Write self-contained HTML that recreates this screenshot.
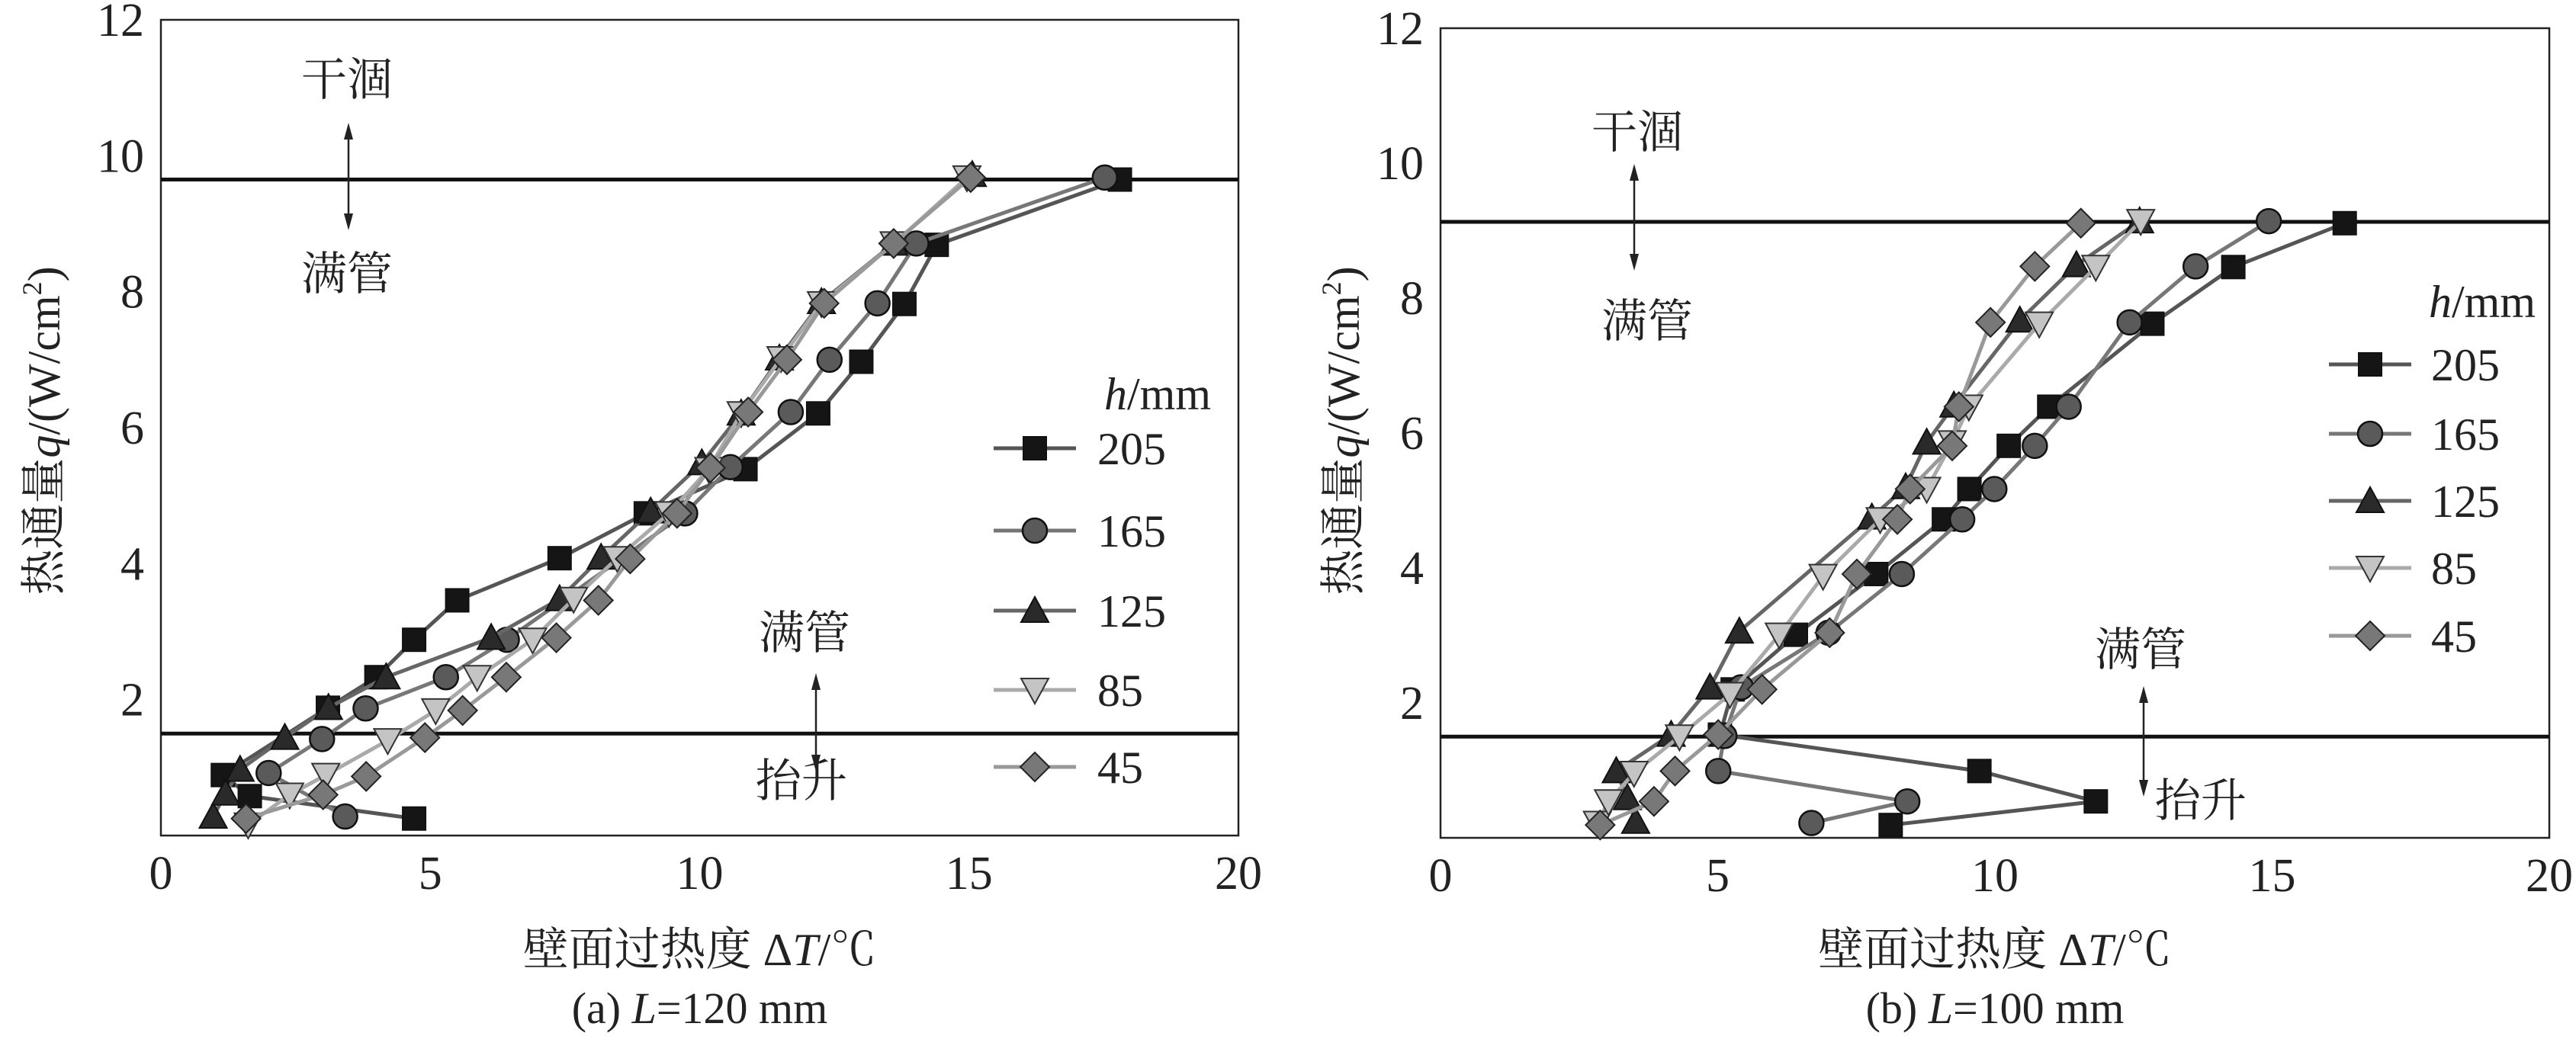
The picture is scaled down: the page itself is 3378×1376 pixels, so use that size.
<!DOCTYPE html>
<html><head><meta charset="utf-8">
<style>
html,body{margin:0;padding:0;background:#fff;}
svg{display:block;font-family:"Liberation Serif","Noto Serif CJK SC",serif;}
</style></head>
<body>
<svg id="chart" width="3378" height="1376" viewBox="0 0 3378 1376" xmlns="http://www.w3.org/2000/svg"></svg>
<script>
// ---------- data ----------
const seriesNames = ["205","165","125","85","45"];
const xTicks = [0,5,10,15,20];
const yTicks = [2,4,6,8,10,12];
// Panel (a) L=120 mm : [ΔT, q]
const a205 = [[4.7,0.25],[1.65,0.58],[1.15,0.89],[3.1,1.88],[4.0,2.33],[4.7,2.88],[5.5,3.46],[7.4,4.08],[9.0,4.74],[10.85,5.39],[12.2,6.21],[13.0,6.97],[13.8,7.82],[14.4,8.69],[17.8,9.65]];
const a165 = [[3.42,0.28],[2.0,0.92],[2.99,1.42],[3.8,1.87],[5.29,2.33],[6.42,2.88],[9.73,4.74],[10.57,5.42],[11.69,6.23],[12.41,7.0],[13.3,7.83],[14.02,8.71],[17.52,9.68]];
const a125 = [[0.97,0.28],[1.2,0.62],[1.47,0.97],[2.3,1.44],[3.11,1.88],[4.18,2.33],[6.13,2.91],[7.4,3.48],[8.17,4.09],[9.09,4.77],[10.04,5.48],[10.77,6.21],[11.48,7.02],[12.26,7.85],[13.6,8.71],[15.06,9.72]];
const a85 = [[1.62,0.16],[2.39,0.6],[3.06,0.89],[4.21,1.4],[5.1,1.84],[5.87,2.33],[6.9,2.88],[7.66,3.48],[8.47,4.08],[9.43,4.74],[10.17,5.39],[10.77,6.21],[11.51,7.02],[12.26,7.83],[13.61,8.71],[14.96,9.68]];
const a45 = [[1.58,0.25],[3.01,0.6],[3.81,0.87],[4.9,1.44],[5.6,1.84],[6.41,2.33],[7.34,2.91],[8.12,3.46],[8.71,4.07],[9.58,4.74],[10.2,5.41],[10.9,6.23],[11.62,7.0],[12.31,7.83],[13.6,8.71],[15.03,9.68]];
// Panel (b) L=100 mm
const b205 = [[8.12,0.19],[11.82,0.54],[9.72,0.99],[5.04,1.53],[5.27,2.2],[6.41,3.01],[7.86,3.91],[9.08,4.72],[9.54,5.17],[10.25,5.81],[10.98,6.39],[12.84,7.62],[14.3,8.46],[16.31,9.11]];
const b165 = [[6.69,0.22],[8.42,0.54],[5.01,0.99],[5.12,1.51],[5.42,2.23],[7.0,3.04],[8.32,3.91],[9.41,4.72],[9.99,5.17],[10.72,5.81],[11.33,6.39],[12.43,7.64],[13.62,8.47],[14.94,9.14]];
const b125 = [[3.52,0.24],[3.37,0.59],[3.17,0.99],[4.16,1.53],[4.86,2.23],[5.39,3.06],[7.78,4.75],[8.39,5.2],[8.77,5.86],[9.26,6.41],[10.45,7.67],[11.47,8.49],[12.61,9.14]];
const b85 = [[2.83,0.22],[3.03,0.54],[3.49,0.96],[4.31,1.5],[5.22,2.13],[6.11,3.01],[6.9,3.88],[7.93,4.72],[8.77,5.17],[9.23,5.86],[9.53,6.39],[10.8,7.62],[11.82,8.46],[12.63,9.14]];
const b45 = [[2.88,0.19],[3.85,0.54],[4.23,0.99],[5.01,1.53],[5.8,2.2],[7.02,3.04],[7.51,3.91],[8.24,4.72],[8.47,5.17],[9.23,5.81],[9.35,6.39],[9.92,7.64],[10.72,8.47],[11.55,9.11]];
const aLines = [9.65,1.5];
const bLines = [9.13,1.5];

// ---------- drawing ----------
const NS="http://www.w3.org/2000/svg";
const svg=document.getElementById('chart');
function el(tag,attrs,parent){const e=document.createElementNS(NS,tag);for(const k in attrs)e.setAttribute(k,attrs[k]);(parent||svg).appendChild(e);return e;}
const styles=[
 {shape:'square',fill:'#151515',line:'#555'},
 {shape:'circle',fill:'#5a5a5a',line:'#777'},
 {shape:'tri',fill:'#2a2a2a',line:'#666'},
 {shape:'itri',fill:'#c4c4c4',line:'#aaa'},
 {shape:'diamond',fill:'#787878',line:'#999'}];
function marker(g,shape,x,y,fill){
  const s=15;let m;
  if(shape==='square')m=el('rect',{x:x-s,y:y-s,width:2*s,height:2*s,fill:fill,stroke:'#111','stroke-width':2},g);
  else if(shape==='circle')m=el('circle',{cx:x,cy:y,r:s+1,fill:fill,stroke:'#111','stroke-width':2.5},g);
  else if(shape==='tri')m=el('polygon',{points:`${x},${y-s-3} ${x+s+3},${y+s} ${x-s-3},${y+s}`,fill:fill,stroke:'#111','stroke-width':2},g);
  else if(shape==='itri')m=el('polygon',{points:`${x},${y+s+3} ${x+s+3},${y-s} ${x-s-3},${y-s}`,fill:fill,stroke:'#333','stroke-width':2},g);
  else m=el('polygon',{points:`${x},${y-s-4} ${x+s+4},${y} ${x},${y+s+4} ${x-s-4},${y}`,fill:fill,stroke:'#222','stroke-width':2},g);
  return m;
}
function panel(cfg){
  const g=el('g',{});
  
  
  const X=v=>cfg.L+(cfg.R-cfg.L)*v/20;
  const Y=v=>cfg.B-(cfg.B-cfg.T)*v/12;
  const frame=el('rect',{x:cfg.L,y:cfg.T,width:cfg.R-cfg.L,height:cfg.B-cfg.T,fill:'none',stroke:'#222','stroke-width':2.5},g);
  
  
  xTicks.forEach(v=>{const t=el('text',{x:X(v),y:cfg.B+70,'font-size':62,'text-anchor':'middle',fill:'#222'},g);t.textContent=v;
    
    });
  yTicks.forEach(v=>{const t=el('text',{x:cfg.L-22,y:Y(v)+21,'font-size':62,'text-anchor':'end',fill:'#222'},g);t.textContent=v;
    
    });
  cfg.lines.forEach(v=>{const l=el('line',{x1:cfg.L,x2:cfg.R,y1:Y(v),y2:Y(v),stroke:'#111','stroke-width':5},g);
    
    });
  cfg.series.forEach((data,i)=>{
    const st=styles[i];
    const sg=el('g',{},g);
    
    
    const pl=el('polyline',{points:data.map(p=>X(p[0])+','+Y(p[1])).join(' '),fill:'none',stroke:st.line,'stroke-width':5},sg);
    
    
    data.forEach(p=>{const m=marker(sg,st.shape,X(p[0]),Y(p[1]),st.fill);
      
      });
  });
  // legend
  const lg=el('g',{},g);
  
  
  const ht=el('text',{x:cfg.leg.hx,y:cfg.leg.hy,'font-size':60,fill:'#222'},lg);
  ht.innerHTML='<tspan font-style="italic">h</tspan>/mm';
  cfg.leg.ys.forEach((yy,i)=>{
    const st=styles[i];
    const le=el('g',{},lg);
    
    
    el('line',{x1:cfg.leg.x1,x2:cfg.leg.x1+108,y1:yy,y2:yy,stroke:st.line,'stroke-width':5},le);
    marker(le,st.shape,cfg.leg.x1+54,yy,st.fill);
    const t=el('text',{x:cfg.leg.tx,y:yy+21,'font-size':60,fill:'#222'},le);t.textContent=seriesNames[i];
  });
  // annotations
  cfg.ann.forEach(a=>{
    const t=el('text',{x:a[1],y:a[2]+22,'font-size':60,'text-anchor':'middle',fill:'#222'},g);t.textContent=a[0];
    
    });
  cfg.arrows.forEach(a=>{
    const ag=el('g',{},g);
    
    
    el('line',{x1:a[0],x2:a[0],y1:a[1]+8,y2:a[2]-8,stroke:'#222','stroke-width':2.5},ag);
    el('polygon',{points:`${a[0]},${a[1]} ${a[0]-6},${a[1]+22} ${a[0]+6},${a[1]+22}`,fill:'#222'},ag);
    el('polygon',{points:`${a[0]},${a[2]} ${a[0]-6},${a[2]-22} ${a[0]+6},${a[2]-22}`,fill:'#222'},ag);
  });
  const xt=el('text',{x:(cfg.L+cfg.R)/2,y:1266,'font-size':60,'text-anchor':'middle',fill:'#222'},g);
  xt.innerHTML='壁面过热度 Δ<tspan font-style="italic">T</tspan>/℃';
  
  
  const yt=el('text',{x:0,y:0,'font-size':60,'text-anchor':'middle',fill:'#222',transform:`translate(${cfg.yx},565) rotate(-90)`},g);
  yt.innerHTML='热通量<tspan font-style="italic">q</tspan>/(W/cm<tspan font-size="36" dy="-24">2</tspan><tspan dy="24">)</tspan>';
  
  
  const cap=el('text',{x:(cfg.L+cfg.R)/2,y:1342,'font-size':58,'text-anchor':'middle',fill:'#222'},g);
  cap.innerHTML=cfg.cap;
  
  
}
panel({name:'panel-a',L:211,R:1624,T:26,B:1096,lines:aLines,series:[a205,a165,a125,a85,a45],
  leg:{hx:1448,hy:537,ys:[588,696,801,905,1006],x1:1303,tx:1439},
  ann:[['干涸',455,103],['满管',455,358],['满管',1055,829],['抬升',1051,1023]],
  arrows:[[457,161,302],[1070,883,1012]],yx:78,
  cap:'(a) <tspan font-style="italic">L</tspan>=120 mm'});
panel({name:'panel-b',L:1889,R:3343,T:37,B:1099,lines:bLines,series:[b205,b165,b125,b85,b45],
  leg:{hx:3185,hy:416,ys:[478,569,657,745,834],x1:3054,tx:3188},
  ann:[['干涸',2147,172],['满管',2160,420],['满管',2807,851],['抬升',2886,1049]],
  arrows:[[2143,215,355],[2811,900,1045]],yx:1782,
  cap:'(b) <tspan font-style="italic">L</tspan>=100 mm'});
</script>
</body></html>
